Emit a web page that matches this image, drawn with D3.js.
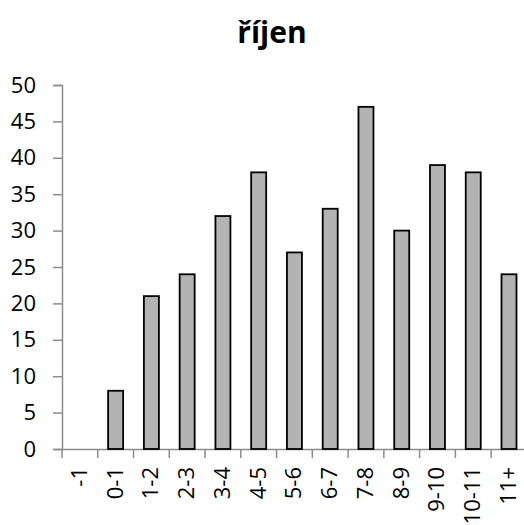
<!DOCTYPE html>
<html><head><meta charset="utf-8">
<script src="https://cdn.jsdelivr.net/npm/d3@7"></script>
<style>body{margin:0;background:#fff}svg{display:block}</style>
</head><body>
<script>
const categories = ["-1","0-1","1-2","2-3","3-4","4-5","5-6","6-7","7-8","8-9","9-10","10-11","11+"];
const values = [0,8,21,24,32,38,27,33,47,30,39,38,24];
const yTicks = [0,5,10,15,20,25,30,35,40,45,50];
const title = "říjen";

const W = 524, H = 525;
const m = {left: 62};
const bandW = 35.76;
const svg = d3.select("body").append("svg").attr("width", W).attr("height", H);

const x = d3.scaleBand().domain(categories).range([m.left, m.left + bandW*categories.length]).paddingInner(0).paddingOuter(0);
const y = d3.scaleLinear().domain([0,50]).range([449, 85]);
const font = "'Open Sans', 'Liberation Sans', sans-serif";

svg.append("text").attr("x", 272).attr("y", 43).attr("text-anchor","middle")
  .style("font-family",font).style("font-weight","bold").style("font-size","30px").text(title);

const gy = svg.append("g").attr("transform",`translate(${m.left},0)`)
  .call(d3.axisLeft(y).tickValues(yTicks).tickSize(9).tickPadding(17).tickFormat(d3.format("d")));
const gx = svg.append("g").attr("transform",`translate(0,449)`)
  .call(d3.axisBottom(x).tickSize(0).tickFormat(""));
[gy, gx].forEach(g => {
  g.select(".domain").attr("stroke","#8c8c8c").attr("stroke-width",1.5);
  g.selectAll(".tick line").attr("stroke","#8c8c8c").attr("stroke-width",1.5);
  g.selectAll("text").style("font-family",font).style("font-size","22px").attr("fill","#000");
});
// x tick marks at band boundaries
svg.append("g").selectAll("line").data(d3.range(categories.length + 1))
  .join("line")
  .attr("x1", i => m.left + i * x.bandwidth())
  .attr("x2", i => m.left + i * x.bandwidth())
  .attr("y1", 449).attr("y2", 458).attr("stroke","#8c8c8c").attr("stroke-width",1.5);
// x labels
svg.append("g").selectAll("text").data(categories).join("text")
  .attr("transform", d => `translate(${x(d)+x.bandwidth()/2+7},467) rotate(-90)`)
  .attr("text-anchor","end")
  .style("font-family",font).style("font-size","22px").text(d => d);

const bw = 15;
svg.append("g").selectAll("rect").data(values.map((v,i)=>({c:categories[i],v})).filter(d=>d.v>0))
  .join("rect")
  .attr("x", d => x(d.c) + x.bandwidth()/2 - bw/2)
  .attr("y", d => y(d.v))
  .attr("width", bw)
  .attr("height", d => y(0) - y(d.v))
  .attr("fill","#b3b3b3").attr("stroke","#000").attr("stroke-width",1.8);
</script>
</body></html>
